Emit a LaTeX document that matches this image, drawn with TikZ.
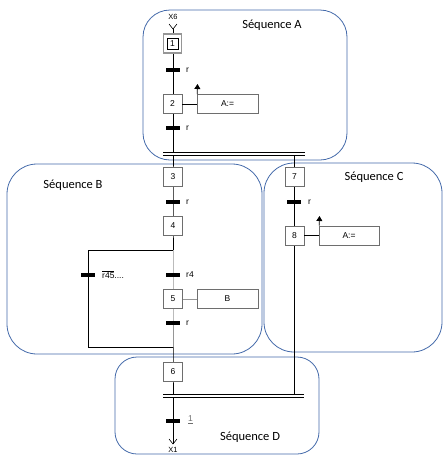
\documentclass[tikz,border=0pt]{standalone}
\usepackage{fontspec}
\setmainfont{Liberation Sans}
\newfontfamily\calfont{Carlito}
\usetikzlibrary{arrows.meta}
\definecolor{seqblue}{RGB}{68,106,170}
\definecolor{boxgray}{RGB}{110,110,110}
\definecolor{lgray}{RGB}{150,150,150}
\begin{document}
\begin{tikzpicture}[x=1pt,y=-1pt,
  seqbox/.style={draw=seqblue, line width=0.8pt},
  seqlabel/.style={font=\calfont\fontsize{12.5}{14}\selectfont},
  stepbox/.style={draw=boxgray, fill=white, line width=0.6pt, minimum width=19pt, minimum height=19pt, inner sep=0pt, font=\fontsize{8.5}{9}\selectfont},
  actbox/.style={draw=boxgray, fill=white, line width=0.6pt, minimum width=61pt, minimum height=19pt, inner sep=0pt, font=\fontsize{8.5}{9}\selectfont},
  trans/.style={fill=black, minimum width=14pt, minimum height=4pt, inner sep=0pt},
  lbl/.style={font=\fontsize{8.5}{9}\selectfont, inner sep=0pt, anchor=west},
  link/.style={line width=0.8pt, black},
  glink/.style={line width=0.8pt, lgray},
  sync/.style={line width=0.8pt, black},
  actarrow/.style={line width=0.8pt, -{Triangle[length=5pt,width=6pt]}},
  openv/.style={line width=0.6pt, black}]
\useasboundingbox (0,0) rectangle (444,456);

% sequence frames
\draw[seqbox, rounded corners=27pt] (143,10) rectangle (347,160);
\draw[seqbox, rounded corners=30pt] (7,164) rectangle (262,354);
\draw[seqbox, rounded corners=30pt] (264,163) rectangle (442,352);
\draw[seqbox, rounded corners=22pt] (115,357) rectangle (319,454);
\node[seqlabel] (la) at (272,25) {Séquence A};
\node[seqlabel] (lb) at (73,185) {Séquence B};
\node[seqlabel] (lc) at (374,177) {Séquence C};
\node[seqlabel] (ld) at (250,437) {Séquence D};

% coordinates
\coordinate (x6v) at (173,29);
\coordinate (j1t) at (173,152);
\coordinate (j1b) at (173,155);
\coordinate (k1b) at (294.5,155);
\coordinate (br) at (173,250);
\coordinate (brl) at (88,250);
\coordinate (lpl) at (88,347);
\coordinate (lp) at (173,347);
\coordinate (j2t) at (173,394);
\coordinate (j2b) at (173,397);
\coordinate (k2t) at (294.5,394);
\coordinate (endv) at (173,444);

% main lines
\draw[link] (x6v) -- (173,40);
\draw[link] (173,40) -- (173,104);
\draw[link] (173,104) -- (j1t);
\draw[link] (j1b) -- (173,177) -- (173,226) -- (br);
\draw[glink] (br) -- (173,299) -- (lp);
\draw[link] (br) -- (brl) -- (lpl) -- (lp);
\draw[link] (lp) -- (173,372) -- (j2t);
\draw[link] (j2b) -- (endv);
\draw[link] (k1b) -- (294.5,236) -- (k2t);

% sync double lines
\draw[sync] (163,152) -- (305,152);
\draw[sync] (163,155) -- (305,155);
\draw[sync] (163,394) -- (304,394);
\draw[sync] (163,397) -- (304,397);

% open arrow heads
\node[font=\fontsize{7.5}{8}\selectfont, inner sep=0pt] (x6) at (173,16.5) {X6};
\draw[openv] (169,24) -- (x6v) -- (177,24);
\draw[openv] (169,439) -- (endv) -- (177,439);
\node[font=\fontsize{7.5}{8}\selectfont, inner sep=0pt] (x1) at (173,449.5) {X1};

% steps
\node[stepbox, draw=lgray, line width=1.6pt, minimum width=18pt, minimum height=19pt] (s1) at (172.5,43.3) {};
\node[draw=black, line width=0.5pt, minimum width=11pt, minimum height=11.5pt, inner sep=0pt, font=\fontsize{8.5}{9}\selectfont] (s1i) at (172.5,43.5) {1};
\node[stepbox] (s2) at (172.5,104) {2};
\node[stepbox] (s3) at (173,177) {3};
\node[stepbox] (s4) at (173,225.5) {4};
\node[stepbox] (s5) at (173,299) {5};
\node[stepbox] (s6) at (173,372) {6};
\node[stepbox] (s7) at (294.5,177) {7};
\node[stepbox] (s8) at (294.5,235.5) {8};

% actions
\node[actbox] (a2) at (227.5,104) {A:=};
\node[actbox] (a5) at (227.5,299) {B};
\node[actbox, minimum width=60pt] (a8) at (349,235.5) {A:=};
\draw[link, line width=0.6pt] (s2.east) -- (a2.west);
\draw[glink, line width=0.8pt] (s5.east) -- (a5.west);
\draw[link, line width=0.6pt] (s8.east) -- (a8.west);
\coordinate (a2t) at (197.5,84);
\coordinate (a8t) at (319.5,216);
\draw[actarrow] ([xshift=0.5pt]a2.north west) -- (a2t);
\draw[actarrow] ([xshift=0.5pt]a8.north west) -- (a8t);

% transitions
\node[trans] (t1) at (173,70) {};
\node[trans] (t2) at (173,128) {};
\node[trans] (t3) at (173,202) {};
\node[trans] (t4) at (173,275) {};
\node[trans] (t45) at (88,275) {};
\node[trans] (t5) at (173,323) {};
\node[trans] (t7) at (294,202) {};
\node[trans] (t6) at (173,421) {};

\node[lbl] (r1) at (186,70) {r};
\node[lbl] (r2) at (186,128) {r};
\node[lbl] (r3) at (186,202) {r};
\node[lbl] (r4) at (186,275) {r4};
\node[lbl] (r45) at (102,275) {$\overline{\hbox{\fontsize{8.5}{9}\selectfont r45}}$....};
\node[lbl] (r5) at (186,323) {r};
\node[lbl] (r7) at (308,202) {r};
\node[lbl, text=boxgray] (r6) at (188,419.5) {\underline{1}};
\end{tikzpicture}
\end{document}
